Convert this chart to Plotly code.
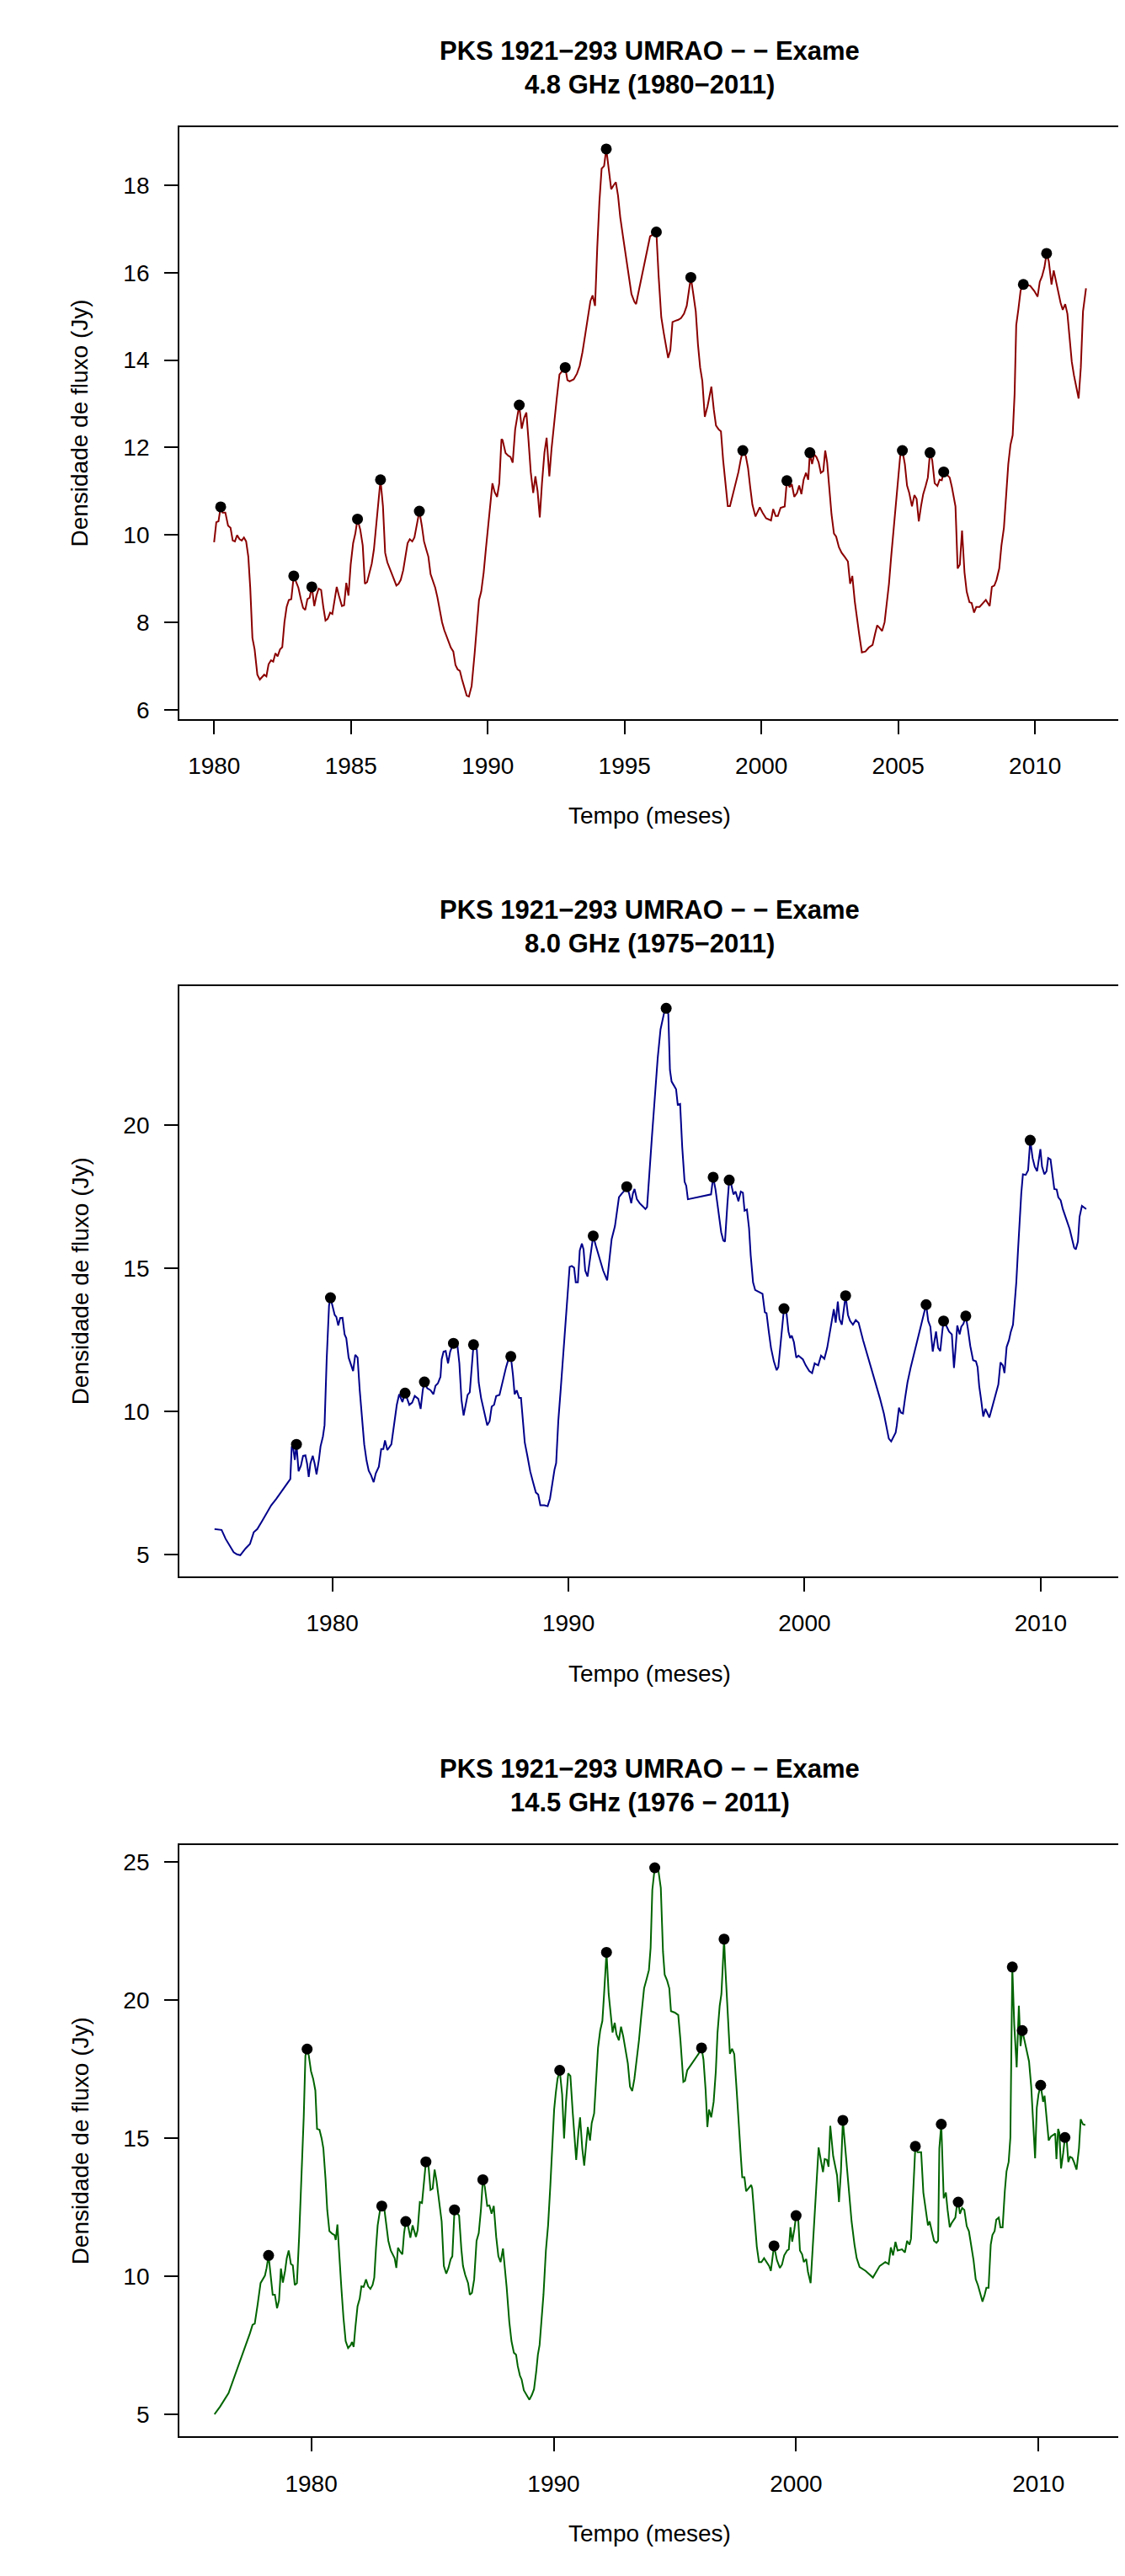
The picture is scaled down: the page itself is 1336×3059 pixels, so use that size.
import plotly.graph_objects as go

# ---------------- data ----------------
# 4.8 GHz (1980-2011): (decimal year, flux Jy)
s48 = [
(1980.00,9.83),(1980.08,10.29),(1980.16,10.31),(1980.24,10.64),(1980.31,10.51),(1980.41,10.51),(1980.51,10.21),(1980.60,10.16),(1980.68,9.87),(1980.76,9.85),
(1980.84,9.99),(1980.93,9.90),(1981.01,9.87),(1981.09,9.94),(1981.17,9.85),(1981.25,9.50),(1981.32,8.79),(1981.40,7.64),(1981.48,7.38),(1981.58,6.80),
(1981.67,6.69),(1981.83,6.80),(1981.91,6.76),(1981.99,7.04),(1982.08,7.13),(1982.16,7.10),(1982.24,7.29),(1982.32,7.22),(1982.41,7.38),(1982.49,7.43),
(1982.57,8.00),(1982.65,8.35),(1982.73,8.51),(1982.82,8.53),(1982.91,9.06),(1983.00,8.92),(1983.08,8.79),(1983.17,8.53),(1983.25,8.33),(1983.33,8.28),
(1983.41,8.53),(1983.49,8.56),(1983.57,8.81),(1983.66,8.37),(1983.74,8.61),(1983.82,8.77),(1983.91,8.74),(1983.99,8.35),(1984.07,8.04),(1984.15,8.08),
(1984.24,8.22),(1984.32,8.19),(1984.40,8.48),(1984.48,8.81),(1984.56,8.61),(1984.67,8.37),(1984.75,8.39),(1984.83,8.90),(1984.91,8.61),(1984.99,9.32),
(1985.08,9.81),(1985.16,10.03),(1985.24,10.36),(1985.34,10.12),(1985.43,9.76),(1985.51,8.88),(1985.59,8.92),(1985.67,9.14),(1985.76,9.34),(1985.84,9.67),
(1985.92,10.21),(1986.00,10.73),(1986.08,11.26),(1986.17,10.65),(1986.25,9.59),(1986.33,9.37),(1986.41,9.23),(1986.50,9.10),(1986.58,8.97),(1986.66,8.84),
(1986.74,8.88),(1986.82,8.97),(1986.91,9.19),(1986.99,9.50),(1987.07,9.81),(1987.15,9.90),(1987.24,9.85),(1987.32,9.94),(1987.40,10.21),(1987.50,10.54),
(1987.59,10.21),(1987.67,9.85),(1987.75,9.67),(1987.83,9.50),(1987.91,9.10),(1987.99,8.97),(1988.08,8.79),(1988.16,8.57),(1988.24,8.26),(1988.33,8.00),
(1988.41,7.82),(1988.49,7.69),(1988.57,7.55),(1988.65,7.42),(1988.74,7.33),(1988.82,7.02),(1988.90,6.92),(1988.98,6.89),(1989.06,6.69),(1989.15,6.51),
(1989.23,6.32),(1989.31,6.30),(1989.41,6.54),(1989.52,7.29),(1989.60,8.00),(1989.68,8.51),(1989.76,8.70),(1989.85,9.14),(1989.93,9.67),(1990.01,10.21),
(1990.09,10.69),(1990.17,11.18),(1990.25,10.98),(1990.34,10.87),(1990.42,11.18),(1990.50,12.19),
(1990.54,12.17),(1990.65,11.87),(1990.75,11.81),(1990.83,11.78),(1990.91,11.65),(1991.00,12.41),(1991.15,12.97),(1991.24,12.43),(1991.33,12.68),(1991.41,12.80),
(1991.49,12.15),(1991.57,11.44),(1991.66,10.96),(1991.74,11.34),(1991.82,11.00),(1991.90,10.40),(1991.98,11.18),(1992.07,11.88),(1992.15,12.22),(1992.25,11.34),
(1992.33,11.97),(1992.42,12.59),(1992.52,13.12),(1992.62,13.67),(1992.83,13.83),(1992.91,13.54),(1992.99,13.51),(1993.14,13.56),(1993.26,13.69),(1993.36,13.87),
(1993.46,14.18),(1993.57,14.62),(1993.67,15.06),(1993.75,15.35),(1993.83,15.48),(1993.92,15.24),(1994.00,16.57),(1994.08,17.63),(1994.16,18.38),(1994.25,18.44),
(1994.33,18.83),(1994.41,18.42),(1994.51,17.91),(1994.60,18.00),(1994.68,18.07),(1994.76,17.76),(1994.84,17.27),(1994.94,16.83),(1995.05,16.39),(1995.15,15.95),
(1995.25,15.51),(1995.36,15.33),(1995.42,15.28),(1995.52,15.59),(1995.62,15.90),(1995.73,16.21),(1995.83,16.57),(1995.93,16.83),(1996.03,16.87),(1996.16,16.93),
(1996.24,15.95),(1996.34,14.98),(1996.43,14.62),(1996.51,14.34),(1996.59,14.05),(1996.67,14.22),(1996.75,14.87),(1996.86,14.90),(1996.96,14.92),(1997.06,14.96),
(1997.17,15.06),(1997.27,15.24),(1997.35,15.59),(1997.42,15.89),(1997.51,15.51),(1997.60,15.11),(1997.68,14.36),(1997.76,13.83),(1997.84,13.52),(1997.93,12.70),
(1998.03,12.94),(1998.17,13.39),(1998.26,12.86),(1998.34,12.50),(1998.44,12.41),(1998.52,12.37),(1998.60,11.71),(1998.69,11.09),(1998.77,10.66),(1998.85,10.66),
(1998.95,10.91),(1999.06,11.18),(1999.16,11.44),(1999.24,11.71),(1999.32,11.93),(1999.43,11.80),(1999.51,11.53),(1999.59,11.09),(1999.67,10.69),(1999.78,10.42),
(1999.86,10.54),(1999.94,10.63),(2000.04,10.51),(2000.17,10.38),(2000.35,10.33),(2000.43,10.59),(2000.52,10.43),(2000.60,10.43),(2000.70,10.62),(2000.85,10.65),
(2000.93,11.24),(2001.03,11.09),(2001.11,11.16),(2001.20,10.87),(2001.30,10.96),(2001.38,11.13),(2001.46,10.93),(2001.54,11.26),(2001.63,11.42),(2001.71,11.26),
(2001.77,11.88),(2001.85,11.62),(2001.93,11.84),
(2002.01,11.78),(2002.09,11.66),(2002.17,11.42),(2002.26,11.46),(2002.33,11.93),(2002.40,11.66),(2002.48,11.00),(2002.56,10.47),(2002.65,10.03),(2002.73,9.96),
(2002.83,9.72),(2002.93,9.59),(2003.04,9.50),(2003.16,9.39),(2003.24,8.88),(2003.32,9.06),(2003.41,8.48),(2003.49,8.08),(2003.57,7.73),(2003.67,7.31),
(2003.80,7.33),(2003.92,7.42),(2004.06,7.48),(2004.15,7.73),(2004.23,7.93),(2004.33,7.86),(2004.41,7.80),(2004.50,8.00),(2004.58,8.44),(2004.66,8.88),
(2004.74,9.50),(2004.83,10.12),(2004.91,10.73),(2004.99,11.31),(2005.07,11.80),(2005.15,11.93),(2005.24,11.62),(2005.32,11.13),(2005.40,10.96),(2005.50,10.65),
(2005.59,10.91),(2005.67,10.82),(2005.75,10.31),(2005.83,10.65),(2005.91,10.93),(2006.00,11.12),(2006.08,11.31),(2006.16,11.88),(2006.24,11.71),(2006.33,11.18),
(2006.43,11.12),(2006.51,11.26),(2006.59,11.25),(2006.66,11.44),(2006.74,11.40),(2006.88,11.31),(2006.96,11.09),(2007.09,10.65),(2007.17,9.23),(2007.25,9.32),
(2007.33,10.10),(2007.42,9.14),(2007.50,8.70),(2007.60,8.46),(2007.68,8.44),(2007.77,8.22),(2007.85,8.35),(2007.97,8.35),(2008.11,8.44),(2008.20,8.51),
(2008.34,8.37),(2008.42,8.81),(2008.51,8.84),(2008.59,8.97),(2008.69,9.23),(2008.77,9.76),(2008.86,10.16),(2008.94,10.91),(2009.02,11.62),(2009.10,12.06),
(2009.18,12.28),(2009.25,13.21),(2009.31,14.80),(2009.39,15.17),(2009.47,15.59),(2009.57,15.73),(2009.72,15.72),(2009.82,15.70),(2009.97,15.58),(2010.09,15.45),
(2010.17,15.79),(2010.25,15.91),(2010.34,16.12),(2010.42,16.44),(2010.50,16.26),(2010.60,15.73),(2010.68,16.05),(2010.77,15.77),(2010.85,15.51),(2010.93,15.31),
(2011.01,15.15),(2011.10,15.28),(2011.18,15.06),(2011.26,14.53),(2011.34,13.96),(2011.42,13.65),(2011.51,13.39),(2011.59,13.12),(2011.67,13.83),(2011.75,15.11),
(2011.86,15.64),
]
p48 = [(1980.24,10.64),(1982.91,9.06),(1983.57,8.81),(1985.24,10.36),(1986.08,11.26),(1987.50,10.54),
       (1991.15,12.97),(1992.83,13.83),(1994.33,18.83),(1996.16,16.93),(1997.42,15.89),(1999.32,11.93),
       (2000.93,11.24),(2001.77,11.88),(2005.15,11.93),(2006.16,11.88),(2006.66,11.44),(2009.57,15.73),
       (2010.42,16.44)]

# 8.0 GHz (1975-2011)
s80 = [
(1975.01,5.88),(1975.31,5.85),(1975.48,5.54),(1975.66,5.31),(1975.82,5.07),(1975.96,5.00),(1976.10,4.97),(1976.32,5.20),(1976.51,5.36),(1976.67,5.77),
(1976.82,5.88),(1977.03,6.17),(1977.22,6.42),(1977.41,6.71),(1977.62,6.93),(1977.79,7.12),(1977.98,7.36),(1978.12,7.52),(1978.22,7.63),(1978.28,8.77),
(1978.34,8.71),(1978.41,8.30),(1978.48,8.84),(1978.57,7.90),(1978.67,8.10),(1978.76,8.44),(1978.86,8.46),(1978.93,8.17),(1979.00,7.70),(1979.07,8.17),
(1979.17,8.44),(1979.25,8.17),(1979.33,7.79),(1979.43,8.30),(1979.50,8.77),(1979.60,9.11),(1979.67,9.51),(1979.76,11.81),(1979.86,13.69),(1979.92,13.96),
(1980.00,13.69),(1980.10,13.36),(1980.17,13.29),(1980.25,12.99),(1980.33,13.25),(1980.43,13.26),(1980.52,12.68),(1980.59,12.55),(1980.69,11.87),(1980.78,11.67),
(1980.88,11.40),(1980.97,11.97),(1981.07,11.87),(1981.16,10.73),(1981.26,9.78),(1981.35,8.84),(1981.45,8.27),(1981.54,7.92),(1981.64,7.76),(1981.75,7.52),
(1981.84,7.83),(1981.97,8.06),(1982.07,8.68),(1982.16,8.68),(1982.23,8.98),(1982.33,8.64),(1982.50,8.84),(1982.61,9.58),(1982.73,10.22),(1982.83,10.59),
(1982.97,10.32),(1983.07,10.62),(1983.16,10.46),(1983.26,10.22),(1983.38,10.30),(1983.49,10.53),(1983.64,10.43),(1983.74,10.08),(1983.83,10.73),(1983.90,11.02),
(1984.02,10.80),(1984.16,10.73),(1984.28,10.59),(1984.37,10.89),(1984.47,10.97),(1984.58,11.20),(1984.63,11.81),(1984.71,12.08),(1984.80,12.10),(1984.90,11.67),
(1984.99,12.08),(1985.13,12.37),(1985.29,12.34),(1985.38,11.67),(1985.47,10.39),(1985.56,9.85),(1985.66,10.32),(1985.73,10.57),(1985.82,10.66),(1985.98,12.32),
(1986.12,12.14),(1986.20,11.00),(1986.30,10.46),(1986.42,9.99),(1986.56,9.51),(1986.66,9.65),(1986.75,10.16),(1986.85,10.22),(1986.94,10.53),(1987.08,10.57),
(1987.20,11.00),
(1987.36,11.54),(1987.48,11.87),(1987.56,11.91),(1987.65,11.27),(1987.72,10.59),(1987.81,10.73),(1987.91,10.46),(1987.99,10.46),(1988.07,9.65),(1988.15,8.91),
(1988.26,8.44),(1988.38,7.90),(1988.50,7.52),(1988.62,7.16),(1988.72,7.09),(1988.81,6.71),(1988.98,6.71),(1989.12,6.68),(1989.22,6.95),(1989.31,7.49),
(1989.41,7.96),(1989.48,8.19),(1989.57,9.65),(1989.67,10.73),(1989.76,11.81),(1989.86,12.88),(1989.95,13.96),(1990.05,15.04),(1990.14,15.07),(1990.24,15.01),
(1990.31,14.50),(1990.40,14.50),(1990.48,15.61),(1990.57,15.85),(1990.64,15.65),(1990.71,14.91),(1990.81,14.70),(1990.93,15.44),(1991.05,16.12),(1991.16,15.78),
(1991.31,15.38),(1991.47,14.91),(1991.64,14.57),(1991.73,15.31),(1991.83,16.01),(1991.97,16.46),(1992.07,16.99),(1992.14,17.47),(1992.26,17.60),(1992.38,17.71),
(1992.47,17.84),(1992.57,17.60),(1992.66,17.26),(1992.73,17.60),(1992.80,17.76),(1992.90,17.40),(1993.02,17.26),(1993.16,17.13),(1993.26,17.06),(1993.33,17.13),
(1993.42,18.27),(1993.54,19.62),(1993.66,20.97),(1993.78,22.32),(1993.90,23.33),(1993.99,23.73),(1994.06,23.94),(1994.14,24.07),(1994.23,23.87),(1994.30,21.91),
(1994.37,21.51),(1994.47,21.37),(1994.56,21.24),(1994.63,20.70),(1994.73,20.73),(1994.82,19.22),(1994.92,18.01),(1994.99,17.87),(1995.06,17.40),(1996.04,17.57),
(1996.13,18.17),(1996.23,17.74),(1996.35,16.93),(1996.47,16.25),(1996.56,15.96),(1996.63,15.92),(1996.73,17.20),(1996.81,18.07),(1996.89,17.94),(1996.99,17.57),
(1997.08,17.67),(1997.20,17.33),(1997.30,17.67),(1997.39,17.63),(1997.46,17.00),(1997.56,17.04),(1997.65,16.39),(1997.72,15.44),(1997.82,14.50),(1997.91,14.23),
(1998.08,14.16),(1998.22,14.10),(1998.32,13.45),(1998.39,13.42),(1998.49,12.75),(1998.58,12.21),(1998.70,11.74),(1998.82,11.43),(1998.89,11.54),(1999.01,12.61),
(1999.13,13.58),(1999.22,13.56),(1999.32,12.78),(1999.39,12.55),(1999.46,12.64),(1999.55,12.41),(1999.65,11.87),(1999.74,11.94),(1999.84,11.87),(1999.93,11.81),
(2000.05,11.60),(2000.20,11.40),(2000.32,11.33),(2000.43,11.67),
(2000.48,11.64),(2000.58,11.60),(2000.70,11.94),(2000.84,11.83),(2000.96,12.21),(2001.05,12.61),(2001.17,13.15),(2001.24,13.56),(2001.32,13.09),(2001.41,13.83),
(2001.48,13.22),(2001.58,13.02),(2001.74,14.03),(2001.84,13.36),(2001.93,13.15),(2002.05,13.02),(2002.17,13.18),(2002.29,13.09),(2002.48,12.48),(2002.72,11.81),
(2002.96,11.13),(2003.19,10.46),(2003.36,9.92),(2003.48,9.38),(2003.57,9.04),(2003.67,8.94),(2003.76,9.11),(2003.86,9.25),(2003.91,9.51),(2004.00,10.12),
(2004.08,9.95),(2004.17,9.92),(2004.26,10.46),(2004.36,11.00),(2004.50,11.54),(2004.62,11.94),(2004.74,12.35),(2004.86,12.75),(2004.98,13.15),(2005.07,13.42),
(2005.15,13.72),(2005.24,13.15),(2005.33,12.95),(2005.43,12.08),(2005.50,12.48),(2005.57,12.78),(2005.66,12.21),(2005.75,12.10),(2005.83,12.75),(2005.89,13.15),
(2006.00,12.99),(2006.12,12.78),(2006.24,12.68),(2006.33,11.51),(2006.40,12.21),(2006.47,12.99),(2006.57,12.68),(2006.64,12.95),(2006.73,13.05),(2006.83,13.32),
(2006.92,12.88),(2007.02,12.28),(2007.14,11.78),(2007.26,11.74),(2007.33,11.54),(2007.40,10.86),(2007.47,10.46),(2007.57,9.81),(2007.66,10.08),(2007.76,9.88),
(2007.83,9.78),(2007.92,10.05),(2008.04,10.39),(2008.21,10.93),(2008.30,11.70),(2008.40,11.60),(2008.47,11.33),(2008.56,12.24),(2008.66,12.48),(2008.73,12.75),
(2008.83,13.02),(2008.90,13.69),(2008.97,14.50),(2009.04,15.58),(2009.11,16.66),(2009.18,17.60),(2009.25,18.27),(2009.37,18.25),(2009.47,18.41),(2009.56,19.46),
(2009.66,18.84),(2009.75,18.54),(2009.85,18.38),(2009.92,18.81),(2009.99,19.15),(2010.06,18.54),(2010.16,18.27),(2010.25,18.38),(2010.32,18.84),(2010.42,18.79),
(2010.51,18.14),(2010.58,17.76),(2010.68,17.74),(2010.75,17.47),(2010.85,17.36),(2010.94,17.06),(2011.04,16.82),(2011.13,16.59),(2011.23,16.36),(2011.32,16.05),
(2011.42,15.71),(2011.49,15.65),(2011.58,15.92),(2011.65,16.79),(2011.75,17.17),(2011.93,17.06),
]
p80 = [(1978.48,8.84),(1979.92,13.96),(1983.08,10.63),(1983.90,11.02),(1985.13,12.37),(1985.98,12.32),
       (1987.56,11.91),(1991.05,16.12),(1992.47,17.84),(1994.14,24.07),(1996.13,18.17),(1996.81,18.07),
       (1999.13,13.58),(2001.74,14.03),(2005.15,13.72),(2005.89,13.15),(2006.83,13.32),(2009.56,19.46)]

# 14.5 GHz (1976-2011)
s145 = [
(1976.01,5.00),(1976.24,5.28),(1976.59,5.77),(1976.82,6.33),(1977.05,6.88),(1977.28,7.44),(1977.47,7.93),(1977.58,8.24),(1977.67,8.28),(1977.79,8.98),
(1977.91,9.75),(1978.09,10.02),(1978.16,10.30),(1978.24,10.75),(1978.32,10.02),(1978.41,9.33),(1978.50,9.33),(1978.59,8.84),(1978.67,9.12),(1978.75,10.28),
(1978.83,9.77),(1978.92,10.19),(1978.99,10.65),(1979.07,10.93),(1979.16,10.44),(1979.24,10.39),(1979.32,9.68),(1979.41,9.75),(1979.50,11.42),(1979.59,13.51),
(1979.69,15.75),(1979.76,17.98),(1979.83,18.22),(1979.90,17.98),(1979.99,17.42),(1980.08,17.14),(1980.17,16.72),(1980.24,15.33),(1980.34,15.30),(1980.43,14.98),
(1980.50,14.63),(1980.59,13.51),(1980.66,12.40),(1980.75,11.63),(1980.87,11.53),(1980.96,11.49),(1981.01,11.31),(1981.08,11.87),(1981.15,10.72),(1981.24,9.61),
(1981.33,8.49),(1981.42,7.65),(1981.52,7.40),(1981.63,7.51),(1981.68,7.62),(1981.75,7.44),(1981.82,8.14),(1981.91,8.91),(1982.00,9.19),(1982.07,9.63),
(1982.16,9.61),(1982.26,9.88),(1982.35,9.63),(1982.44,9.54),(1982.53,9.68),(1982.60,9.95),(1982.67,11.00),(1982.74,11.84),(1982.84,12.40),(1982.91,12.54),
(1983.00,12.54),(1983.09,11.84),(1983.18,11.28),(1983.28,10.93),(1983.37,10.79),(1983.44,10.65),(1983.51,10.30),(1983.58,11.03),(1983.67,10.89),(1983.76,10.79),
(1983.83,11.56),(1983.90,11.98),(1983.99,11.84),(1984.09,11.39),(1984.18,11.84),(1984.25,11.59),(1984.32,11.42),(1984.39,11.67),(1984.48,12.68),(1984.57,12.65),
(1984.64,13.23),(1984.73,14.14),(1984.83,14.07),(1984.92,13.12),(1985.01,13.17),(1985.09,13.86),(1985.17,13.44),(1985.27,12.75),(1985.38,11.98),(1985.47,10.37),
(1985.57,10.09),(1985.66,10.30),(1985.75,10.61),(1985.82,10.72),(1985.91,12.40),(1986.01,12.29),(1986.10,12.19),(1986.19,11.00),(1986.26,10.37),(1986.35,10.05),
(1986.47,9.75),(1986.54,9.33),(1986.63,9.40),(1986.72,9.88),(1986.82,11.28),(1986.91,11.56),(1987.00,12.40),(1987.08,13.49),(1987.16,13.23),(1987.26,12.54),
(1987.35,12.56),(1987.44,12.26),(1987.53,12.54),(1987.63,11.42),(1987.72,10.72),(1987.81,10.51),(1987.91,11.00),
(1988.06,9.61),(1988.17,8.35),(1988.26,7.65),(1988.36,7.23),(1988.45,7.16),(1988.52,6.74),(1988.61,6.40),(1988.68,6.26),(1988.77,5.87),(1988.89,5.67),
(1989.00,5.53),(1989.10,5.70),(1989.19,5.91),(1989.28,6.54),(1989.35,7.16),(1989.42,7.51),(1989.49,8.21),(1989.58,9.33),(1989.68,10.93),(1989.77,11.84),
(1989.86,13.23),(1989.95,14.91),(1990.02,16.03),(1990.09,16.65),(1990.16,17.14),(1990.25,17.45),(1990.35,16.58),(1990.43,14.98),(1990.51,16.31),(1990.60,17.34),
(1990.69,17.25),(1990.79,15.89),(1990.93,14.21),(1991.02,15.19),(1991.09,15.75),(1991.18,14.63),(1991.26,14.00),(1991.34,14.77),(1991.41,15.40),(1991.50,14.91),
(1991.57,15.54),(1991.67,15.89),(1991.74,16.86),(1991.83,18.26),(1991.92,18.89),(1992.01,19.24),(1992.08,20.21),(1992.18,21.72),(1992.27,20.21),(1992.34,19.66),
(1992.43,18.82),(1992.52,19.17),(1992.59,18.75),(1992.69,18.54),(1992.78,19.03),(1992.87,18.68),(1992.96,18.26),(1993.06,17.70),(1993.15,16.86),(1993.24,16.70),
(1993.33,17.14),(1993.43,17.84),(1993.52,18.54),(1993.61,19.38),(1993.73,20.42),(1993.84,20.77),(1993.93,21.08),(1994.00,21.89),(1994.07,23.98),(1994.17,24.78),
(1994.31,24.75),(1994.42,24.05),(1994.51,21.75),(1994.58,20.91),(1994.68,20.70),(1994.77,20.42),(1994.84,19.59),(1995.00,19.54),(1995.14,19.45),(1995.23,18.54),
(1995.35,17.03),(1995.42,17.07),(1995.51,17.45),(1995.65,17.63),(1995.81,17.84),(1995.98,18.05),(1996.10,18.26),(1996.18,17.84),(1996.27,16.72),(1996.34,15.40),
(1996.41,16.03),(1996.50,15.75),(1996.60,16.31),(1996.69,17.42),(1996.76,18.82),(1996.85,19.79),(1996.92,20.21),(1996.97,21.19),(1997.03,22.20),(1997.08,21.19),
(1997.18,19.52),(1997.27,18.05),(1997.36,18.23),(1997.45,18.04),(1997.55,16.72),(1997.64,15.33),(1997.73,14.21),(1997.78,13.58),(1997.87,13.58),(1997.94,13.07),
(1998.06,13.21),(1998.15,13.30),(1998.19,13.17),(1998.29,12.12),(1998.38,11.07),(1998.47,10.51),(1998.57,10.51),(1998.68,10.65),(1998.80,10.51),(1998.89,10.37),
(1998.96,10.19),(1999.09,11.10),(1999.21,10.58),(1999.33,10.30),(1999.42,10.42),(1999.51,10.75),(1999.63,10.93),(1999.70,10.97),(1999.77,11.77),(1999.84,11.25),
(1999.93,11.70),(2000.00,12.19),(2000.09,12.05),(2000.16,10.93),(2000.25,10.79),(2000.32,10.51),(2000.42,10.62),(2000.49,10.16),(2000.60,9.75),(2000.67,10.72),
(2000.76,11.98),(2000.83,13.23),(2000.93,14.66),(2001.02,14.21),(2001.11,13.77),(2001.18,14.24),(2001.27,14.21),(2001.34,13.96),(2001.41,15.44),(2001.53,14.35),
(2001.60,14.07),(2001.69,13.65),(2001.77,12.68),(2001.85,13.79),(2001.93,15.64),(2002.01,14.77),(2002.11,13.79),(2002.20,12.82),(2002.29,11.98),(2002.41,11.14),
(2002.50,10.65),(2002.62,10.33),(2002.87,10.19),(2003.17,9.95),(2003.45,10.37),(2003.68,10.51),(2003.82,10.44),(2003.91,11.04),(2004.00,10.75),(2004.10,11.24),
(2004.19,10.93),(2004.37,10.97),(2004.49,10.86),(2004.58,11.28),(2004.68,11.14),(2004.74,11.35),(2004.84,13.23),(2004.92,14.70),(2005.01,14.49),(2005.16,14.49),
(2005.25,13.03),(2005.35,12.40),(2005.44,11.84),(2005.51,11.98),(2005.60,11.63),(2005.69,11.28),(2005.79,11.21),(2005.86,11.28),(2005.91,14.63),(2005.99,15.50),
(2006.09,12.82),(2006.18,13.03),(2006.25,12.40),(2006.34,11.77),(2006.41,11.91),(2006.57,12.12),(2006.64,12.61),(2006.69,12.68),(2006.76,12.26),(2006.85,12.47),
(2006.94,12.40),(2007.04,11.81),(2007.13,11.63),(2007.22,11.14),(2007.32,10.58),(2007.41,9.89),(2007.50,9.68),(2007.59,9.40),(2007.69,9.08),(2007.78,9.33),
(2007.85,9.58),(2007.94,9.58),(2008.03,11.14),(2008.10,11.49),(2008.19,11.63),(2008.26,12.05),(2008.36,12.12),(2008.43,11.77),(2008.52,11.77),(2008.61,13.07),
(2008.68,13.79),(2008.77,14.14),(2008.84,15.02),(2008.92,21.19),(2009.00,19.10),(2009.10,17.56),(2009.19,19.79),(2009.26,18.33),(2009.33,18.89),(2009.42,18.54),
(2009.51,18.19),(2009.61,17.77),(2009.70,16.86),(2009.77,15.75),(2009.86,14.27),(2009.93,16.10),(2010.00,16.58),(2010.09,16.91),(2010.19,16.31),(2010.25,16.53),
(2010.32,15.75),(2010.42,14.91),(2010.51,15.05),(2010.69,15.16),(2010.74,14.24),(2010.81,15.33),(2010.86,15.19),(2010.93,13.90),(2011.02,14.46),(2011.09,15.02),
(2011.16,14.98),(2011.23,14.13),(2011.30,14.32),(2011.39,14.28),(2011.46,14.14),(2011.57,13.86),(2011.67,14.63),(2011.74,15.68),(2011.83,15.50),(2011.93,15.47),
]
p145 = [(1978.24,10.75),(1979.83,18.22),(1982.91,12.54),(1983.90,11.98),(1984.73,14.14),(1985.91,12.40),
        (1987.08,13.49),(1990.25,17.45),(1992.18,21.72),(1994.17,24.78),(1996.10,18.26),(1997.03,22.20),
        (1999.09,11.10),(2000.00,12.19),(2001.93,15.64),(2004.92,14.70),(2005.99,15.50),(2006.69,12.68),
        (2008.92,21.19),(2009.33,18.89),(2010.09,16.91),(2011.09,15.02)]

titles = [("PKS 1921\u2212293 UMRAO \u2212 \u2212 Exame", "4.8 GHz (1980\u22122011)"),
          ("PKS 1921\u2212293 UMRAO \u2212 \u2212 Exame", "8.0 GHz (1975\u22122011)"),
          ("PKS 1921\u2212293 UMRAO \u2212 \u2212 Exame", "14.5 GHz (1976 \u2212 2011)")]
xlabel = "Tempo (meses)"
ylabel = "Densidade de fluxo (Jy)"
xticks = [[1980, 1985, 1990, 1995, 2000, 2005, 2010],
          [1980, 1990, 2000, 2010],
          [1980, 1990, 2000, 2010]]
yticks = [[6, 8, 10, 12, 14, 16, 18], [5, 10, 15, 20], [5, 10, 15, 20, 25]]
colors = ["#8B0000", "#00008B", "#006400"]

# ---------------- layout ----------------
W, H = 1336, 3059
FONT = "Liberation Sans, Arial, Helvetica, sans-serif"
def py(pix):
    return 1 - pix / H

boxes = [(143.7, 847.0), (1164.7, 1867.0), (2187.0, 2890.0)]   # top, bottom (px)
xranges = [[1978.73, 2013.10], [1973.52, 2013.36], [1974.56, 2013.36]]
yranges = [[5.79, 19.32], [4.23, 24.85], [4.20, 25.59]]
xdom = [205 / W, 1322 / W]
offsets = [0, 1021, 2043]

fig = go.Figure()
series = [s48, s80, s145]
peaks = [p48, p80, p145]
for i in range(3):
    xa = "x" if i == 0 else f"x{i+1}"
    ya = "y" if i == 0 else f"y{i+1}"
    t = [p[0] for p in series[i]]
    f = [p[1] for p in series[i]]
    fig.add_trace(go.Scatter(x=t, y=f, mode="lines", line=dict(color=colors[i], width=2),
                             xaxis=xa, yaxis=ya, showlegend=False, hoverinfo="skip"))
    fig.add_trace(go.Scatter(x=[p[0] for p in peaks[i]], y=[p[1] for p in peaks[i]], mode="markers",
                             marker=dict(color="black", size=13, line=dict(width=0)),
                             xaxis=xa, yaxis=ya, showlegend=False, hoverinfo="skip"))

axis_common = dict(showline=True, mirror=True, linecolor="black", linewidth=1.8,
                   ticks="outside", ticklen=16, tickwidth=1.5, tickcolor="black",
                   showgrid=False, zeroline=False,
                   tickfont=dict(family=FONT, size=28, color="black"))
layout = dict(width=W, height=H, margin=dict(l=0, r=0, t=0, b=0),
              plot_bgcolor="white", paper_bgcolor="white", showlegend=False)
annotations = []
for i in range(3):
    top, bot = boxes[i]
    xk = "xaxis" if i == 0 else f"xaxis{i+1}"
    yk = "yaxis" if i == 0 else f"yaxis{i+1}"
    yname = "y" if i == 0 else f"y{i+1}"
    xname = "x" if i == 0 else f"x{i+1}"
    layout[xk] = dict(axis_common, domain=xdom, anchor=yname, range=xranges[i],
                      tickmode="array", tickvals=xticks[i], ticktext=[str(v) for v in xticks[i]],
                      ticklabelstandoff=14)
    layout[yk] = dict(axis_common, domain=[py(bot), py(top)], anchor=xname, range=yranges[i],
                      tickmode="array", tickvals=yticks[i], ticktext=[str(v) for v in yticks[i]],
                      ticklabelstandoff=12)
    off = offsets[i]
    annotations.append(dict(text="<b>" + titles[i][0] + "</b>", x=763.5 / W, y=py(53 + off),
                            xref="paper", yref="paper", showarrow=False, xanchor="center", yanchor="middle",
                            font=dict(family=FONT, size=31, color="black")))
    annotations.append(dict(text="<b>" + titles[i][1] + "</b>", x=763.5 / W, y=py(93 + off),
                            xref="paper", yref="paper", showarrow=False, xanchor="center", yanchor="middle",
                            font=dict(family=FONT, size=31, color="black")))
    annotations.append(dict(text=xlabel, x=763.5 / W, y=py(962 + off),
                            xref="paper", yref="paper", showarrow=False, xanchor="center", yanchor="middle",
                            font=dict(family=FONT, size=28, color="black")))
    annotations.append(dict(text=ylabel, x=87 / W, y=py((top + bot) / 2),
                            xref="paper", yref="paper", showarrow=False, xanchor="center", yanchor="middle",
                            textangle=-90, font=dict(family=FONT, size=28, color="black")))
layout["annotations"] = annotations
fig.update_layout(**layout)
fig.write_html("out.html")
